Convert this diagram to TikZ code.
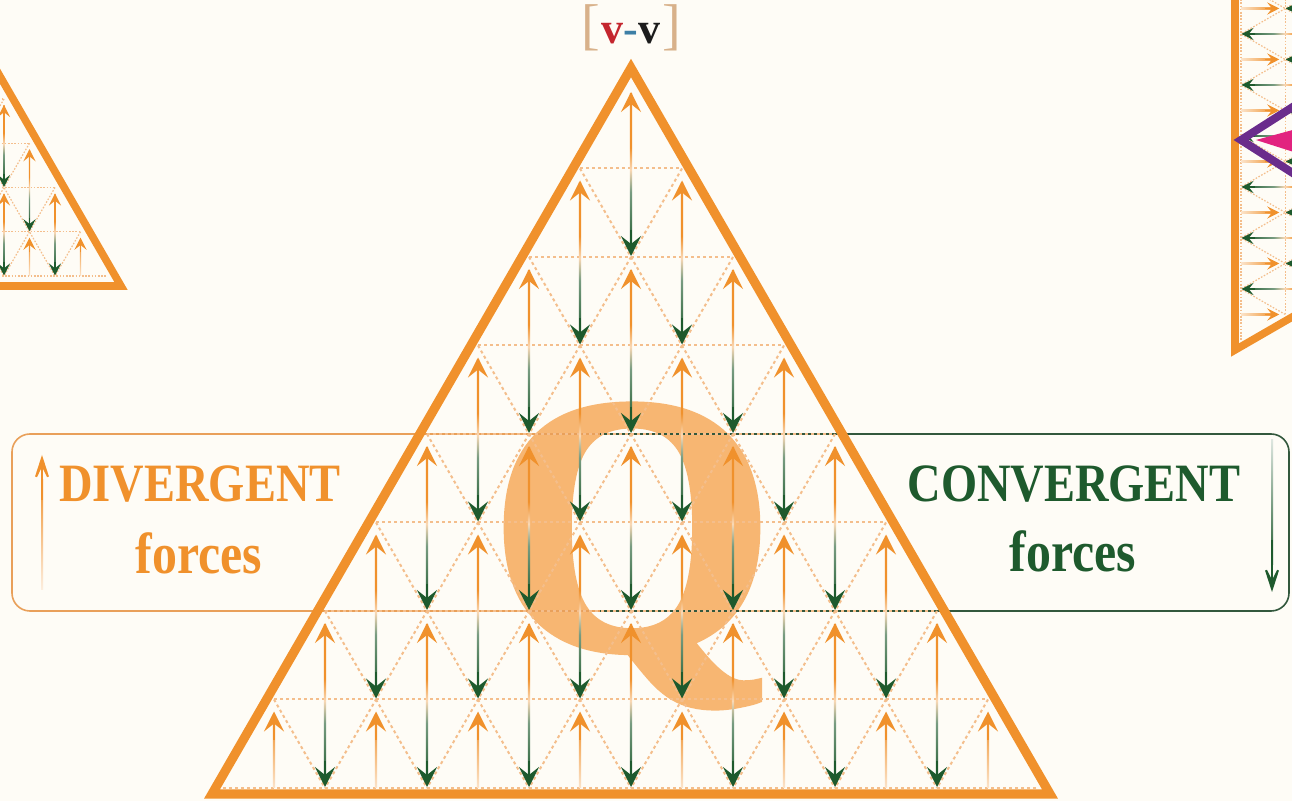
\documentclass[tikz,border=0pt]{standalone}
\usepackage{fontspec}
\setmainfont{Liberation Serif}
\newfontfamily\labelfont[FakeStretch=0.86]{Liberation Serif}
\newfontfamily\qfont[FakeBold=2.5]{Liberation Serif}
\usetikzlibrary{arrows.meta}
\definecolor{paper}{HTML}{FEFCF6}
\definecolor{forange}{HTML}{F0912C}
\definecolor{fgreen}{HTML}{1E5A2D}
\definecolor{dots}{HTML}{F4BE8C}
\definecolor{qtint}{HTML}{F7B672}
\definecolor{boxorange}{HTML}{E9A05A}
\definecolor{boxgreen}{HTML}{33583D}
\definecolor{bracket}{HTML}{D8B18A}
\definecolor{vred}{HTML}{C4262E}
\definecolor{vblue}{HTML}{3D7FA6}
\definecolor{vdark}{HTML}{1C1C1C}
\definecolor{dpurple}{HTML}{6A2C8C}
\definecolor{dpink}{HTML}{E2237F}

\pgfdeclareverticalshading{shaft}{100bp}{color(0bp)=(fgreen); color(25bp)=(fgreen);
  color(44bp)=(fgreen!60!white); color(51bp)=(forange!35!white); color(58bp)=(forange);
  color(75bp)=(forange); color(100bp)=(forange)}

\tikzset{
  gridline/.style={dots, line width=1pt, dash pattern=on 1.5pt off 1.5pt},
  tipup/.style={forange, line width=1pt, -{Stealth[length=10pt,width=10pt,inset=4pt]}},
  tipdown/.style={fgreen, line width=1pt, -{Stealth[length=10pt,width=10pt,inset=4pt]}},
  smallgrid/.style={
    gridline/.style={dots, line width=0.6pt, dash pattern=on 0.8pt off 0.8pt},
    tipup/.style={forange, line width=0.6pt, -{Stealth[length=6pt,width=6pt,inset=2.4pt]}},
    tipdown/.style={fgreen, line width=0.6pt, -{Stealth[length=6pt,width=6pt,inset=2.4pt]}}},
  rim/.style={forange, line width=4.6pt, line join=miter},
  divtext/.style={text=forange, inner sep=0pt, anchor=base},
  context/.style={text=fgreen, inner sep=0pt, anchor=base},
  bigfont/.style={font=\labelfont\bfseries\fontsize{27}{30}\selectfont},
  smallfont/.style={font=\labelfont\bfseries\fontsize{29}{32}\selectfont},
  qletter/.style={text=qtint, inner sep=0pt, anchor=base,
    font=\qfont\bfseries\fontsize{182}{182}\selectfont}
}

% lattice of paired forces, apex at (0,0), base at 708
\newcommand{\forcegrid}[1]{%
  \foreach \k in {1,...,8}
    \draw[gridline] ({-\k*51},{\k*88.5}) -- ({\k*51},{\k*88.5});
  \foreach \m in {1,...,7}{
    \draw[gridline] ({\m*51},{\m*88.5}) -- ({(2*\m-8)*51},708);
    \draw[gridline] ({-\m*51},{\m*88.5}) -- ({(8-2*\m)*51},708);}
  \foreach \k in {0,...,6}
    \foreach \j in {0,...,\k}{
      \pgfmathsetmacro\xx{(2*\j-\k)*51}
      \pgfmathsetmacro\ya{\k*88.5}
      \shade[shading=shaft, shading angle=#1] (\xx-1.2,\ya+14) rectangle (\xx+1.2,\ya+172);
      \draw[tipup] (\xx,\ya+40) -- (\xx,\ya+12);
      \draw[tipdown] (\xx,\ya+150) -- (\xx,\ya+176);}
  \foreach \j in {0,...,7}{
    \pgfmathsetmacro\xx{(2*\j-7)*51}
    \shade[top color=forange, bottom color=forange!25!white, shading angle=#1]
      (\xx-1.2,640) rectangle (\xx+1.2,708);
    \draw[tipup] (\xx,660) -- (\xx,631.5);}
}

\begin{document}
\begin{tikzpicture}[x=0.5pt, y=-0.5pt]
  \useasboundingbox (0,0) rectangle (1292,801);
  \clip (0,0) rectangle (1292,801);
  \fill[paper] (0,0) rectangle (1292,801);

  % letter behind the lattice
  \node[qletter] (q) at (632,647) {Q};

  % the two label boxes
  \draw[boxorange, line width=0.8pt, rounded corners=9pt]
    (600,434) -- (12,434) -- (12,611) -- (600,611);
  \draw[boxgreen, line width=0.8pt, rounded corners=9pt]
    (600,434) -- (1289,434) -- (1289,611) -- (600,611);

  % main triangle
  \begin{scope}[shift={(631,80)}]
    \forcegrid{0}
  \end{scope}
  \draw[rim] (212,794) -- (631,68) -- (1050,794) -- cycle;

  % small triangle, top left
  \begin{scope}[shift={(-98,-78)}, scale=0.5, smallgrid]
    \forcegrid{0}
  \end{scope}
  \draw[rim, line width=3.8pt] (-100,-97) -- (121,286) -- (-60,286);

  % turned triangle, top right
  \begin{scope}[shift={(1595,136)}, x={(0pt,-0.25pt)}, y={(-0.25pt,0pt)}, smallgrid]
    \forcegrid{-90}
  \end{scope}
  \draw[rim, line width=3.8pt] (1235,-20) -- (1235,350) -- (1340,289.4);
  \fill[dpink] (1256,140) -- (1300,128) -- (1300,154) -- cycle;
  \draw[dpurple, line width=4pt, line join=miter] (1335,80) -- (1241,140) -- (1335,200);

  % top label
  \node[anchor=base, inner sep=0pt] (vv) at (631,44)
    {\textcolor{bracket}{\fontsize{28}{28}\selectfont[}\hspace{1pt}%
     {\bfseries\fontsize{22}{24}\selectfont\textcolor{vred}{v}\textcolor{vblue}{-}\textcolor{vdark}{v}}%
     \hspace{1pt}\textcolor{bracket}{\fontsize{28}{28}\selectfont]}};

  % divergent side
  \node[divtext, bigfont] (div) at (200,502) {DIVERGENT};
  \node[divtext, smallfont] (divf) at (199,574) {forces};
  \coordinate (dlow) at (42,590);
  \coordinate (dtop) at (42,455);
  \shade[top color=forange, bottom color=forange!15!white] (41,590) rectangle (43,480);
  \draw[forange, line width=1pt, -{Stealth[length=17pt,width=11pt,inset=11pt]}] (42,500) -- (dtop);

  % convergent side
  \node[context, bigfont] (con) at (1074,502) {CONVERGENT};
  \node[context, smallfont] (conf) at (1073,572) {forces};
  \coordinate (ctop) at (1272,440);
  \coordinate (clow) at (1272,592);
  \shade[top color=fgreen!15!white, bottom color=fgreen] (1271,440) rectangle (1273,565);
  \draw[fgreen, line width=1pt, -{Stealth[length=17pt,width=11pt,inset=11pt]}] (1272,540) -- (clow);
\end{tikzpicture}
\end{document}
